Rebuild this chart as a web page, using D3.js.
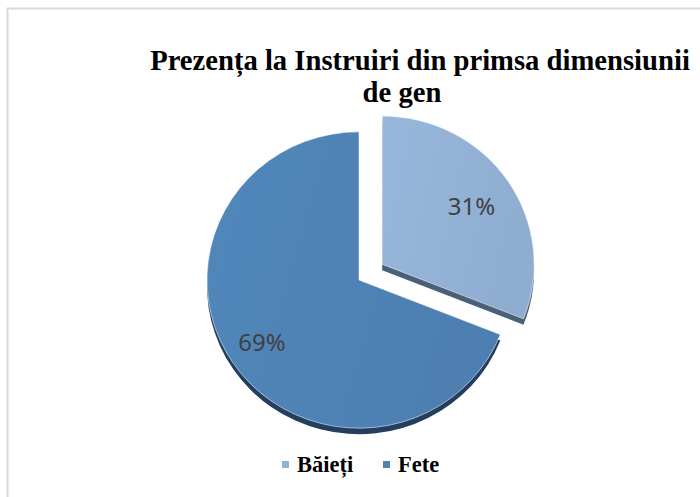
<!DOCTYPE html>
<html><head><meta charset="utf-8">
<script src="https://cdn.jsdelivr.net/npm/d3@7"></script>
<style>html,body{margin:0;padding:0;background:#fff;}svg{display:block;}</style>
</head><body>
<script>
const categories = ["Băieți", "Fete"];
const values = [31, 69];
const labels = ["31%", "69%"];
const titleLines = ["Prezența la Instruiri din primsa dimensiunii", "de gen"];

const W = 700, H = 497;
const svg = d3.select("body").append("svg").attr("width", W).attr("height", H);

svg.append("path").attr("d", "M7.5,497 L7.5,8.5 L700,8.5").attr("fill", "none").attr("stroke", "#d9d9d9").attr("stroke-width", 2);

const faceColors = ["#93b2d6", "#4f83b6"];
const sideColors = ["#4a5f78", "#233e5e"];
const defs = svg.append("defs");
faceColors.forEach((c, i) => {
  const g = defs.append("linearGradient").attr("id", "g" + i).attr("x1", "0%").attr("y1", "0%").attr("x2", "100%").attr("y2", "30%");
  g.append("stop").attr("offset", "0%").attr("stop-color", d3.color(c).brighter(0.08));
  g.append("stop").attr("offset", "100%").attr("stop-color", d3.color(c).darker(0.08));
});

const cx = 359, cy = 280, r = 152, sy = 0.975;
const pie = d3.pie().sort(null).value(d => d)(values);
const arc = d3.arc().innerRadius(0).outerRadius(r);
const explode = [28, 0];
const labelRad = [0.71, 0.74];
const depth = 6;

function offset(d, i) {
  const a = (d.startAngle + d.endAngle) / 2;
  return [Math.sin(a) * explode[i], -Math.cos(a) * explode[i]];
}

const root = svg.append("g");
pie.forEach((d, i) => {
  const [ox, oy] = offset(d, i);
  root.append("path").attr("d", arc(d))
    .attr("transform", `translate(${cx + ox},${cy + oy + depth}) scale(1,${sy})`)
    .attr("fill", sideColors[i]);
});
pie.forEach((d, i) => {
  const [ox, oy] = offset(d, i);
  root.append("path").attr("d", arc(d))
    .attr("transform", `translate(${cx + ox},${cy + oy}) scale(1,${sy})`)
    .attr("fill", `url(#g${i})`)
    .attr("stroke", "rgba(255,255,255,0.55)").attr("stroke-width", 1);
});
pie.forEach((d, i) => {
  const [ox, oy] = offset(d, i);
  const la = d3.arc().innerRadius(r * labelRad[i]).outerRadius(r * labelRad[i]);
  const c = la.centroid(d);
  root.append("text")
    .attr("x", cx + ox + c[0] - (i === 1 ? 4 : 0)).attr("y", cy + oy + c[1] * sy)
    .attr("text-anchor", "middle").attr("dominant-baseline", "central")
    .attr("font-family", "'Noto Sans', sans-serif").attr("font-size", 24)
    .attr("fill", "#404040").text(labels[i]);
});

// title, fitted to the reference width
const tx = [420, 402], ty = [70, 102];
const t0 = svg.append("text").attr("font-family", "'Liberation Serif', serif").attr("font-weight", "bold").attr("font-size", 100).text(titleLines[0]);
const fs = 100 * 540 / t0.node().getComputedTextLength();
t0.remove();
titleLines.forEach((t, i) => {
  svg.append("text").attr("x", tx[i]).attr("y", ty[i]).attr("text-anchor", "middle")
    .attr("font-family", "'Liberation Serif', serif").attr("font-weight", "bold").attr("font-size", fs)
    .attr("fill", "#000").text(t);
});

// legend
const lx = [282, 383];
categories.forEach((c, i) => {
  svg.append("rect").attr("x", lx[i]).attr("y", 461).attr("width", 7).attr("height", 7).attr("fill", faceColors[i]);
  svg.append("text").attr("x", lx[i] + 15).attr("y", 472)
    .attr("font-family", "'Liberation Serif', serif").attr("font-weight", "bold").attr("font-size", 22.5)
    .attr("fill", "#000").text(c);
});
</script>
</body></html>
